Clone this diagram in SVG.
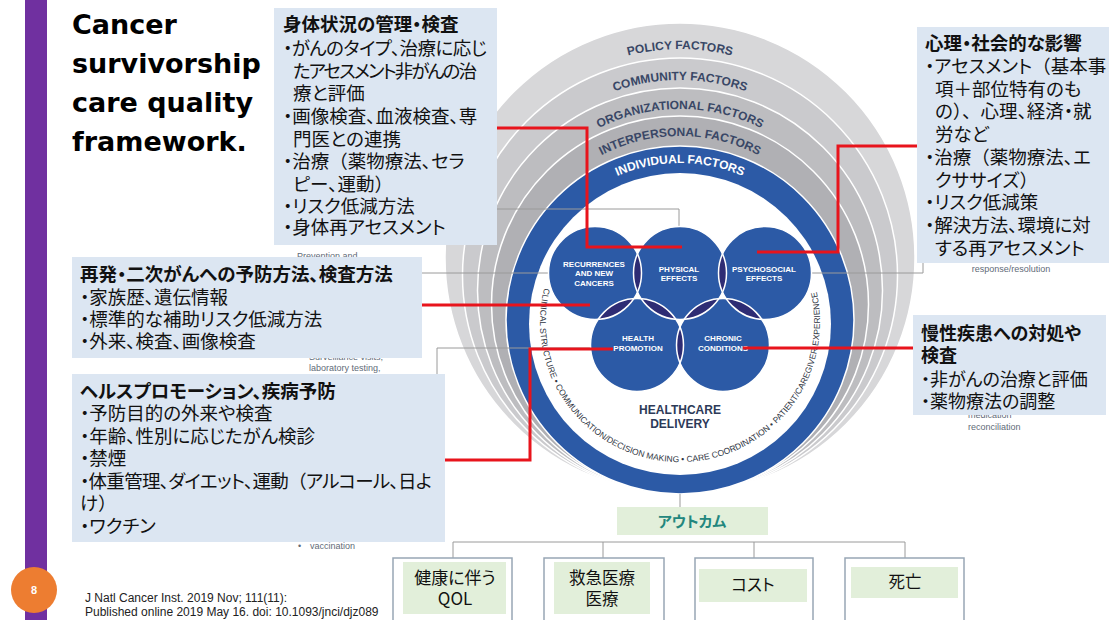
<svg xmlns="http://www.w3.org/2000/svg" width="1117" height="620" viewBox="0 0 1117 620">
<style>
.jp{font-family:"Noto Sans CJK JP","Noto Sans CJK SC",sans-serif;font-feature-settings:"palt" 1;fill:#111;font-size:18.5px}
.np{font-feature-settings:normal}
.hd{font-weight:700}
.bx{fill:#DCE6F2}
.red{stroke:#E8141C;stroke-width:3;fill:none}
.gl{stroke:#9A9A9A;stroke-width:1;fill:none}
.ring{stroke:#fff;stroke-width:1.5}
.rt{font-family:"Liberation Sans",Arial,sans-serif;font-weight:700;font-size:12px;fill:#394766}
.cl{font-family:"Liberation Sans",Arial,sans-serif;font-weight:700;font-size:8px;fill:#fff;text-anchor:middle}
.sm{font-family:"Liberation Sans",Arial,sans-serif;font-size:9px;fill:#5F6B78}
.cb{fill:#2C5AA6}
.lens{fill:#2E2C74}
.co{fill:none;stroke:#fff;stroke-width:1.5}
.gb{fill:#E2EFDA}
.fr{fill:#fff;stroke:#98A6B5;stroke-width:1.5}
</style>
<defs>
<path id="pPol" d="M471,258 A209,209 0 0 1 889,258"/>
<path id="pCom" d="M484.5,275.5 A195.5,195.5 0 0 1 875.5,275.5"/>
<path id="pOrg" d="M498.5,290.5 A181.5,181.5 0 0 1 861.5,290.5"/>
<path id="pInt" d="M511.5,304.5 A168.5,168.5 0 0 1 848.5,304.5"/>
<path id="pInd" d="M523,320 A157,157 0 0 1 837,320"/>
<path id="pIn" d="M544.2,288.1 A140,140 0 1 0 816.5,291"/>
<clipPath id="cA"><circle cx="595" cy="273" r="46.5"/></clipPath>
<clipPath id="cB"><circle cx="680" cy="273" r="46.5"/></clipPath>
<clipPath id="cC"><circle cx="765" cy="273" r="46.5"/></clipPath>
<clipPath id="cD"><circle cx="637" cy="345" r="46.5"/></clipPath>
</defs>
<rect width="1117" height="620" fill="#fff"/>
<rect x="25" y="0" width="22" height="620" fill="#7030A0"/>

<g id="rings">
<circle class="ring" cx="680" cy="258" r="235" fill="#D7D7D9"/>
<circle class="ring" cx="680" cy="275.5" r="217.5" fill="#CACACD"/>
<circle class="ring" cx="680" cy="290.5" r="202.5" fill="#BDBDC0"/>
<circle class="ring" cx="680" cy="304.5" r="188.5" fill="#B0B0B4"/>
<circle class="ring" cx="680" cy="320" r="174" fill="#2C5AA6"/>
<circle cx="680" cy="324" r="151" fill="#fff"/>
<text class="rt" text-anchor="middle"><textPath href="#pPol" startOffset="50%">POLICY FACTORS</textPath></text>
<text class="rt" text-anchor="middle"><textPath href="#pCom" startOffset="50%">COMMUNITY FACTORS</textPath></text>
<text class="rt" text-anchor="middle"><textPath href="#pOrg" startOffset="50%">ORGANIZATIONAL FACTORS</textPath></text>
<text class="rt" text-anchor="middle"><textPath href="#pInt" startOffset="50%">INTERPERSONAL FACTORS</textPath></text>
<text class="rt" text-anchor="middle" style="fill:#fff"><textPath href="#pInd" startOffset="50%">INDIVIDUAL FACTORS</textPath></text>
<text font-family="Liberation Sans, Arial, sans-serif" font-size="8.5" fill="#2F3542"><textPath href="#pIn">CLINICAL STRUCTURE • COMMUNICATION/DECISION MAKING • CARE COORDINATION • PATIENT/CAREGIVER EXPERIENCE</textPath></text>
</g>

<g id="connectors">
<path class="gl" d="M440,209 H679 V228"/>
<path class="gl" d="M422,273 H550"/>
<path class="gl" d="M808,273 H923 V263"/>
<path class="gl" d="M437,374 V348 H593"/>
<path class="gl" d="M680,494 V507"/>
<path class="gl" d="M453,558 V542 H905 V558 M603,542 V558 M754,542 V558"/>
</g>

<g id="circles">
<circle class="cb" cx="595" cy="273" r="46.5"/>
<circle class="cb" cx="680" cy="273" r="46.5"/>
<circle class="cb" cx="765" cy="273" r="46.5"/>
<circle class="cb" cx="637" cy="345" r="46.5"/>
<circle class="cb" cx="723" cy="345" r="46.5"/>
<circle class="lens" cx="680" cy="273" r="46.5" clip-path="url(#cA)"/>
<circle class="lens" cx="765" cy="273" r="46.5" clip-path="url(#cB)"/>
<circle class="lens" cx="637" cy="345" r="46.5" clip-path="url(#cA)"/>
<circle class="lens" cx="637" cy="345" r="46.5" clip-path="url(#cB)"/>
<circle class="lens" cx="723" cy="345" r="46.5" clip-path="url(#cB)"/>
<circle class="lens" cx="723" cy="345" r="46.5" clip-path="url(#cC)"/>
<circle class="lens" cx="723" cy="345" r="46.5" clip-path="url(#cD)"/>
<circle class="co" cx="595" cy="273" r="46.5"/>
<circle class="co" cx="680" cy="273" r="46.5"/>
<circle class="co" cx="765" cy="273" r="46.5"/>
<circle class="co" cx="637" cy="345" r="46.5"/>
<circle class="co" cx="723" cy="345" r="46.5"/>
</g>
<g id="c-recurrences"><text class="cl" x="594" y="266.5">RECURRENCES</text><text class="cl" x="594" y="276">AND NEW</text><text class="cl" x="594" y="285.5">CANCERS</text></g>
<g id="c-physical"><text class="cl" x="679" y="271.5">PHYSICAL</text><text class="cl" x="679" y="281">EFFECTS</text></g>
<g id="c-psychosocial"><text class="cl" x="764" y="271.5">PSYCHOSOCIAL</text><text class="cl" x="764" y="281">EFFECTS</text></g>
<g id="c-health"><text class="cl" x="638" y="341">HEALTH</text><text class="cl" x="638" y="350.5">PROMOTION</text></g>
<g id="c-chronic"><text class="cl" x="723" y="341">CHRONIC</text><text class="cl" x="723" y="350.5">CONDITIONS</text></g>
<g id="healthcare-delivery"><text x="680" y="413.5" text-anchor="middle" font-family="Liberation Sans, Arial, sans-serif" font-weight="700" font-size="12" fill="#2D3A58">HEALTHCARE</text><text x="680" y="428" text-anchor="middle" font-family="Liberation Sans, Arial, sans-serif" font-weight="700" font-size="12" fill="#2D3A58">DELIVERY</text></g>

<g id="fragments">
<text class="sm" x="297" y="259">Prevention and</text>
<text class="sm" x="309" y="360">Surveillance visits,</text>
<text class="sm" x="309" y="371">laboratory testing,</text>
<text class="sm" x="298" y="549">•</text><text class="sm" x="310" y="549">vaccination</text>
<text class="sm" x="1011" y="272" text-anchor="middle">response/resolution</text>
<text class="sm" x="968" y="418">medication</text>
<text class="sm" x="968" y="430">reconciliation</text>
</g>

<g id="red-connectors">
<path class="red" d="M497,128 H587 V247 H682"/>
<path class="red" d="M917,146 H838 V252 H757"/>
<path class="red" d="M422,305 H590"/>
<path class="red" d="M445,460 H530 V349 H613"/>
<path class="red" d="M913,348 H743"/>
</g>

<g id="box-physical">
<rect class="bx" x="274" y="8" width="223" height="237"/>
<text class="jp hd" x="283" y="31">身体状況の管理・検査</text>
<text class="jp" x="283" y="55" textLength="204">・がんのタイプ、治療に応じ</text>
<text class="jp" x="293" y="78" textLength="184">たアセスメント非がんの治</text>
<text class="jp" x="293" y="100">療と評価</text>
<text class="jp" x="283" y="123">・画像検査、血液検査、専</text>
<text class="jp" x="293" y="146">門医との連携</text>
<text class="jp" x="283" y="168">・治療<tspan class="np">（</tspan>薬物療法、セラ</text>
<text class="jp" x="293" y="191">ピー、運動<tspan class="np">）</tspan></text>
<text class="jp" x="283" y="213">・リスク低減方法</text>
<text class="jp" x="283" y="234">・身体再アセスメント</text>
</g>

<g id="box-psychosocial">
<rect class="bx" x="917" y="27" width="192" height="236"/>
<text class="jp hd" x="925" y="50">心理・社会的な影響</text>
<text class="jp" x="925" y="73">・アセスメント<tspan class="np">（</tspan>基本事</text>
<text class="jp" x="935" y="96">項＋部位特有のも</text>
<text class="jp" x="935" y="118">の<tspan class="np">）、</tspan>心理、経済・就</text>
<text class="jp" x="935" y="141">労など</text>
<text class="jp" x="925" y="164">・治療<tspan class="np">（</tspan>薬物療法、エ</text>
<text class="jp" x="935" y="187">クササイズ<tspan class="np">）</tspan></text>
<text class="jp" x="925" y="209">・リスク低減策</text>
<text class="jp" x="925" y="232">・解決方法、環境に対</text>
<text class="jp" x="935" y="255">する再アセスメント</text>
</g>

<g id="box-recurrence">
<rect class="bx" x="72" y="257" width="350" height="101"/>
<text class="jp hd" x="80" y="281">再発・二次がんへの予防方法、検査方法</text>
<text class="jp" x="80" y="304">・家族歴、遺伝情報</text>
<text class="jp" x="80" y="326">・標準的な補助リスク低減方法</text>
<text class="jp" x="80" y="348">・外来、検査、画像検査</text>
</g>

<g id="box-health-promotion">
<rect class="bx" x="72" y="374" width="373" height="168"/>
<text class="jp hd" x="80" y="398">ヘルスプロモーション、疾病予防</text>
<text class="jp" x="80" y="420">・予防目的の外来や検査</text>
<text class="jp" x="80" y="443">・年齢、性別に応じたがん検診</text>
<text class="jp" x="80" y="465">・禁煙</text>
<text class="jp" x="80" y="488" textLength="352">・体重管理、ダイエット、運動<tspan class="np">（</tspan>アルコール、日よ</text>
<text class="jp" x="80" y="510">け<tspan class="np">）</tspan></text>
<text class="jp" x="80" y="533">・ワクチン</text>
</g>

<g id="box-chronic">
<rect class="bx" x="913" y="315" width="193" height="100"/>
<text class="jp hd" x="921" y="340" style="font-size:18px">慢性疾患への対処や</text>
<text class="jp hd" x="921" y="362" style="font-size:18px">検査</text>
<text class="jp" x="921" y="386" style="font-size:18px">・非がんの治療と評価</text>
<text class="jp" x="921" y="408" style="font-size:18px">・薬物療法の調整</text>
</g>

<g id="outcome">
<rect class="gb" x="617" y="507" width="151" height="28"/>
<text class="jp hd" x="692" y="527" text-anchor="middle" style="font-size:15px;fill:#23877E">アウトカム</text>
</g>
<g id="o-qol">
<rect class="fr" x="393" y="558" width="119" height="70"/>
<rect class="gb" x="403" y="562" width="103" height="52"/>
<text class="jp" x="455" y="584" text-anchor="middle" style="font-size:17px">健康に伴う</text>
<text class="jp" x="455" y="605" text-anchor="middle" style="font-size:17px">QOL</text>
</g>
<g id="o-emergency">
<rect class="fr" x="544" y="558" width="120" height="70"/>
<rect class="gb" x="554" y="562" width="96" height="52"/>
<text class="jp" x="602" y="584" text-anchor="middle" style="font-size:16.5px">救急医療</text>
<text class="jp" x="602" y="605" text-anchor="middle" style="font-size:16.5px">医療</text>
</g>
<g id="o-cost">
<rect class="fr" x="695" y="558" width="118" height="70"/>
<rect class="gb" x="699" y="569" width="108" height="33"/>
<text class="jp" x="753" y="591" text-anchor="middle" style="font-size:16.5px">コスト</text>
</g>
<g id="o-death">
<rect class="fr" x="845" y="558" width="119" height="70"/>
<rect class="gb" x="851" y="567" width="107" height="31"/>
<text class="jp" x="905" y="588" text-anchor="middle" style="font-size:16.5px">死亡</text>
</g>

<g id="title">
<text font-family="DejaVu Sans, sans-serif" font-weight="700" font-size="27" fill="#000">
<tspan x="72" y="34">Cancer</tspan>
<tspan x="72" y="73">survivorship</tspan>
<tspan x="72" y="112">care quality</tspan>
<tspan x="72" y="151">framework.</tspan>
</text>
</g>
<g id="page-number">
<circle cx="34" cy="590" r="23" fill="#ED7D31"/>
<text x="34" y="594" text-anchor="middle" font-family="Liberation Sans, Arial, sans-serif" font-weight="700" font-size="11" fill="#fff">8</text>
</g>
<g id="citation" font-family="Liberation Sans, Arial, sans-serif" font-size="12" fill="#222">
<text x="85" y="602">J Natl Cancer Inst. 2019 Nov; 111(11):</text>
<text x="85" y="616">Published online 2019 May 16. doi: 10.1093/jnci/djz089</text>
</g>
</svg>
